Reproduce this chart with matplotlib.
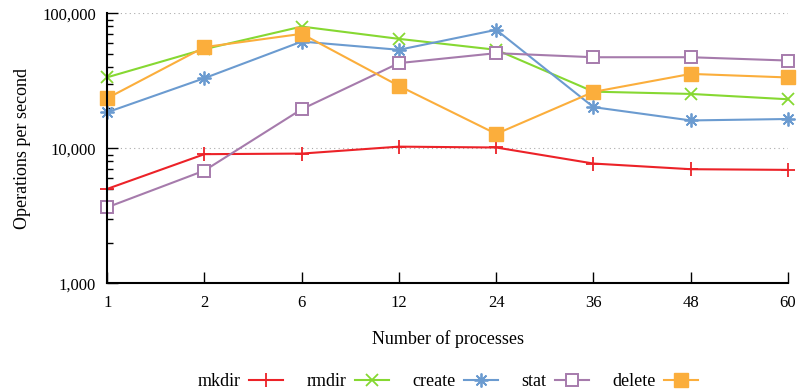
import matplotlib
matplotlib.use("Agg")
import matplotlib.pyplot as plt
from matplotlib.ticker import FuncFormatter, LogLocator, NullFormatter

plt.rcParams['font.family'] = ['Liberation Serif', 'DejaVu Serif']

# data
procs = ['1', '2', '6', '12', '24', '36', '48', '60']
mkdir = [5010, 9060, 9150, 10300, 10150, 7720, 7010, 6930]
rmdir = [33600, 54300, 79800, 64700, 53700, 26300, 25300, 23100]
create = [18500, 33100, 61800, 53700, 75500, 20200, 16100, 16500]
stat = [3660, 6850, 19500, 42800, 50700, 47300, 47300, 44700]
delete = [23500, 56200, 70500, 29000, 12800, 26200, 35600, 33500]

xs = range(len(procs))

fig = plt.figure(figsize=(8, 3.92), dpi=100)
ax = fig.add_axes([0.134, 0.277, 0.851, 0.689])

ax.plot(xs, mkdir, color='#ec2228', marker='+', ms=9.5, mew=1.3, lw=1.5, label='mkdir', clip_on=False)
ax.plot(xs, rmdir, color='#86d832', marker='x', ms=8, mew=1.3, lw=1.5, label='rmdir', clip_on=False)
ax.plot(xs, create, color='#6b9bd0', marker=(8, 2, 0), ms=10, mew=1.3, lw=1.5, label='create', clip_on=False)
ax.plot(xs, stat, color='#a67bac', marker='s', ms=8.5, mfc='white', mew=1.4, lw=1.5, label='stat', clip_on=False)
ax.plot(xs, delete, color='#fbae3c', marker='s', ms=9.5, lw=1.5, label='delete', clip_on=False)

ax.set_yscale('log')
ax.set_ylim(1000, 100000)
ax.set_xlim(0, len(procs) - 1)
ax.set_xticks(list(xs))
ax.set_xticklabels(procs)
ax.yaxis.set_major_locator(LogLocator(base=10, numticks=5))
ax.yaxis.set_minor_locator(LogLocator(base=10, subs=range(2, 10), numticks=20))
ax.yaxis.set_minor_formatter(NullFormatter())
ax.yaxis.set_major_formatter(FuncFormatter(lambda v, p: f'{int(round(v)):,}'))

ax.grid(axis='y', which='major', color='#aaaaaa', linestyle=(0, (1, 3)), lw=0.8)
ax.spines['top'].set_visible(False)
ax.spines['right'].set_visible(False)
ax.spines['left'].set_linewidth(1.5)
ax.spines['bottom'].set_linewidth(1.5)
ax.tick_params(axis='both', which='major', direction='in', length=8, width=1, labelsize=12, pad=8)
ax.tick_params(axis='y', which='minor', direction='in', length=4, width=1)
ax.tick_params(axis='x', which='minor', bottom=False)

ax.set_xlabel('Number of processes', fontsize=13, labelpad=14)
ax.set_ylabel('Operations per second', fontsize=13, labelpad=8)

fig.legend(loc='center', bbox_to_anchor=(0.56, 0.027), ncol=5, frameon=False,
           markerfirst=False, fontsize=13, handlelength=1.9, columnspacing=1.3,
           handletextpad=0.45)

fig.savefig('out.png', dpi=100)
